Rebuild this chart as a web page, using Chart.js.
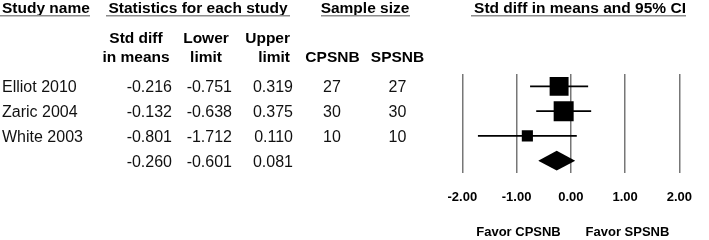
<!DOCTYPE html>
<html>
<head>
<meta charset="utf-8">
<script src="https://cdn.jsdelivr.net/npm/chart.js@4.4.1/dist/chart.umd.min.js"></script>
<style>
    html, body { margin: 0; padding: 0; background: #fff; overflow: hidden; }
</style>
</head>
<body>
<canvas id="forestChart" width="709" height="240"></canvas>
<script>
// data
const studies = ['Elliot 2010', 'Zaric 2004', 'White 2003'];
const stdDiff = [-0.216, -0.132, -0.801];
const lowerLimit = [-0.751, -0.638, -1.712];
const upperLimit = [0.319, 0.375, 0.110];
const nCPSNB = [27, 30, 10];
const nSPSNB = [27, 30, 10];
const summaryValues = [-0.260, -0.601, 0.081]; // estimate, lower, upper
const xTicks = [-2, -1, 0, 1, 2];

document.addEventListener("DOMContentLoaded", function () {

    const font = "'Liberation Sans', Arial, sans-serif";
    const summaryRow = studies.length;

    // box size from inverse variance weight
    const weights = studies.map((s, i) => {
        const se = (upperLimit[i] - lowerLimit[i]) / 3.92;
        return 1 / (se * se);
    });
    const maxW = Math.max(...weights);
    const boxRadius = weights.map(w => 20 * Math.sqrt(w / maxW) / (2 * Math.SQRT1_2));

    const whiskers = studies.map((s, i) => ({
        type: 'line',
        data: [{ x: lowerLimit[i], y: i }, { x: upperLimit[i], y: i }],
        borderColor: '#000',
        borderWidth: 1.8,
        pointRadius: 0,
        fill: false
    }));

    const boxes = {
        type: 'scatter',
        data: studies.map((s, i) => ({ x: stdDiff[i], y: i })),
        pointStyle: 'rect',
        pointRadius: boxRadius,
        backgroundColor: '#000',
        borderWidth: 0
    };

    const diamondTop = {
        type: 'line',
        data: [
            { x: summaryValues[1], y: summaryRow },
            { x: summaryValues[0], y: summaryRow - 0.4 },
            { x: summaryValues[2], y: summaryRow }
        ],
        borderWidth: 0,
        pointRadius: 0,
        tension: 0,
        fill: '+1',
        backgroundColor: '#000'
    };
    const diamondBottom = {
        type: 'line',
        data: [
            { x: summaryValues[1], y: summaryRow },
            { x: summaryValues[0], y: summaryRow + 0.4 },
            { x: summaryValues[2], y: summaryRow }
        ],
        borderWidth: 0,
        pointRadius: 0,
        tension: 0,
        fill: false
    };

    //TABLE TEXT
    const tableText = {
        id: 'tableText',
        afterDraw(chart) {
            const ctx = chart.ctx;
            const yScale = chart.scales.y;
            ctx.save();
            ctx.fillStyle = '#000';
            ctx.textBaseline = 'alphabetic';

            // group headers
            ctx.font = 'bold 15.5px ' + font;
            ctx.textAlign = 'left';
            ctx.fillText('Study name', 2, 13.3);
            ctx.textAlign = 'center';
            ctx.fillText('Statistics for each study', 198, 13.3);
            ctx.fillText('Sample size', 365, 13.3);
            ctx.fillText('Std diff in means and 95% CI', 580, 13.3);

            ctx.strokeStyle = '#8c8c8c';
            ctx.lineWidth = 1.5;
            [[0, 90], [106, 290], [321, 410], [471, 686]].forEach(([a, b]) => {
                ctx.beginPath();
                ctx.moveTo(a, 15.8);
                ctx.lineTo(b, 15.8);
                ctx.stroke();
            });

            // column headers
            ctx.textAlign = 'center';
            ctx.fillText('Std diff', 136, 43.3);
            ctx.fillText('in means', 136, 61.7);
            ctx.fillText('Lower', 206, 43.3);
            ctx.fillText('limit', 206, 61.7);
            ctx.textAlign = 'right';
            ctx.fillText('Upper', 290, 43.3);
            ctx.fillText('limit', 290, 61.7);
            ctx.textAlign = 'center';
            ctx.fillText('CPSNB', 332.5, 61.7);
            ctx.fillText('SPSNB', 397.5, 61.7);

            // rows
            ctx.font = '16px ' + font;
            ctx.fillStyle = '#111';
            studies.forEach((s, i) => {
                const y = yScale.getPixelForValue(i) + 6;
                ctx.textAlign = 'left';
                ctx.fillText(s, 2, y);
                ctx.textAlign = 'right';
                ctx.fillText(stdDiff[i].toFixed(3), 172, y);
                ctx.fillText(lowerLimit[i].toFixed(3), 232, y);
                ctx.fillText(upperLimit[i].toFixed(3), 293, y);
                ctx.textAlign = 'center';
                ctx.fillText(String(nCPSNB[i]), 332, y);
                ctx.fillText(String(nSPSNB[i]), 397.5, y);
            });
            const ys = yScale.getPixelForValue(summaryRow) + 6;
            ctx.textAlign = 'right';
            ctx.fillText(summaryValues[0].toFixed(3), 172, ys);
            ctx.fillText(summaryValues[1].toFixed(3), 232, ys);
            ctx.fillText(summaryValues[2].toFixed(3), 293, ys);

            // favours labels
            ctx.font = 'bold 13px ' + font;
            ctx.fillStyle = '#000';
            ctx.textAlign = 'center';
            ctx.fillText('Favor CPSNB', 518.5, 236.3);
            ctx.fillText('Favor SPSNB', 627.5, 236.3);
            ctx.restore();
        }
    };

    new Chart(document.getElementById('forestChart'), {
        type: 'line',
        data: {
            datasets: [...whiskers, boxes, diamondTop, diamondBottom]
        },
        options: {
            responsive: false,
            animation: false,
            layout: {
                padding: { left: 462.3, right: 16.3, top: 74, bottom: 37 }
            },
            plugins: {
                legend: { display: false },
                tooltip: { enabled: false }
            },
            scales: {
                x: {
                    type: 'linear',
                    min: xTicks[0],
                    max: xTicks[xTicks.length - 1],
                    afterBuildTicks: function (scale) {
                        scale.ticks = xTicks.map(v => ({ value: v }));
                    },
                    afterFit: function (scale) {
                        scale.height = 30;
                    },
                    border: { display: false },
                    grid: {
                        color: '#777',
                        lineWidth: 1.5,
                        drawTicks: false
                    },
                    ticks: {
                        padding: 17,
                        color: '#000',
                        font: { family: font, size: 13, weight: 'bold' },
                        callback: function (value) {
                            return Number(value).toFixed(2);
                        }
                    }
                },
                y: {
                    type: 'linear',
                    display: false,
                    reverse: true,
                    min: -0.5,
                    max: summaryRow + 0.5
                }
            }
        },
        plugins: [tableText]
    });
});
</script>
</body>
</html>
